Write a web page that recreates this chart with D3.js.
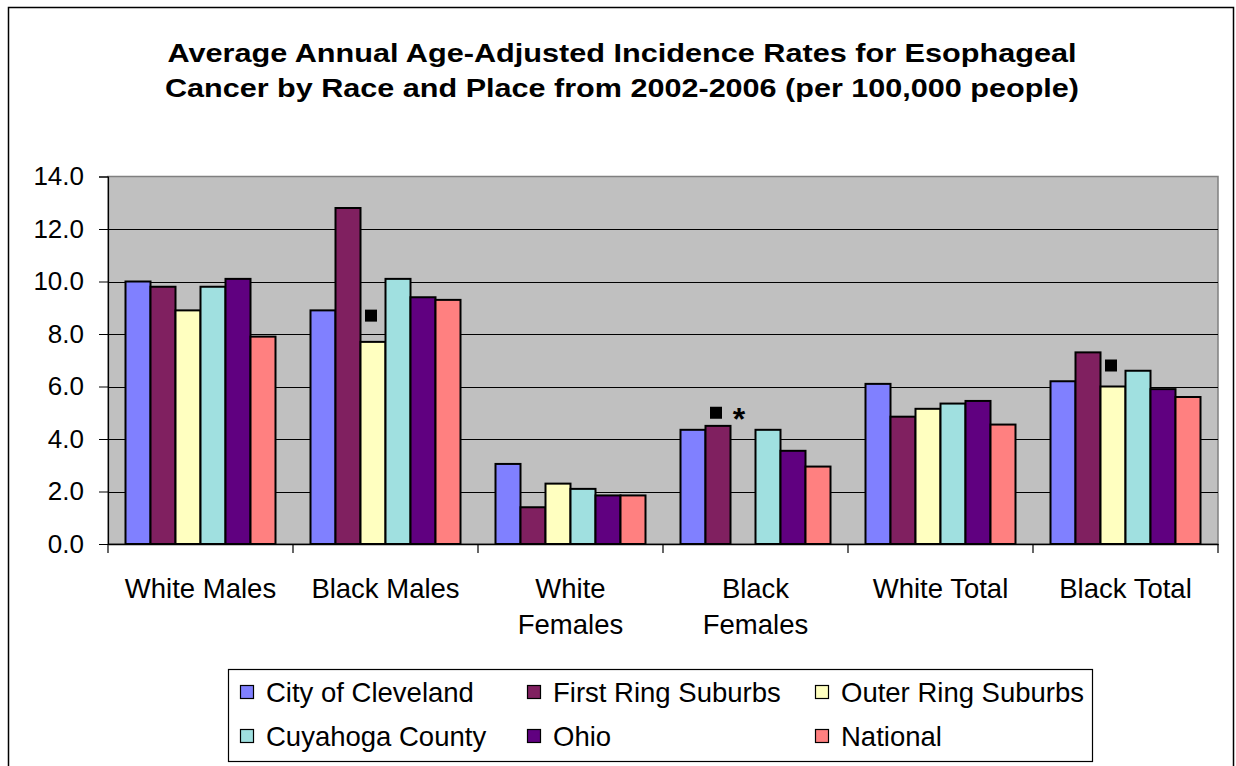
<!DOCTYPE html>
<html>
<head>
<meta charset="utf-8">
<script src="https://cdn.jsdelivr.net/npm/d3@7"></script>
<style>
  html, body { margin: 0; padding: 0; background: #fff; }
  svg { display: block; font-family: "Liberation Sans", Arial, sans-serif; }
</style>
</head>
<body>
<svg id="chart" width="1236" height="766"></svg>
<script>
// ---------- data ----------
const titleLines = [
  "Average Annual Age-Adjusted Incidence Rates for Esophageal",
  "Cancer by Race and Place from 2002-2006 (per 100,000 people)"
];
const categories = ["White Males", "Black Males", "White Females", "Black Females", "White Total", "Black Total"];
const series = ["City of Cleveland", "First Ring Suburbs", "Outer Ring Suburbs", "Cuyahoga County", "Ohio", "National"];
const cityOfCleveland  = [10.0, 8.9, 3.05, 4.35, 6.1, 6.2];
const firstRingSuburbs = [9.8, 12.8, 1.4, 4.5, 4.85, 7.3];
const outerRingSuburbs = [8.9, 7.7, 2.3, null, 5.15, 6.0];
const cuyahogaCounty   = [9.8, 10.1, 2.1, 4.35, 5.35, 6.6];
const ohio             = [10.1, 9.4, 1.85, 3.55, 5.45, 5.9];
const national         = [7.9, 9.3, 1.85, 2.95, 4.55, 5.6];
const seriesValues = [cityOfCleveland, firstRingSuburbs, outerRingSuburbs, cuyahogaCounty, ohio, national];
const yTicks = [0, 2, 4, 6, 8, 10, 12, 14];
// significance markers: category, series, symbol, height (data units)
const markerCategory = ["Black Males", "Black Females", "Black Females", "Black Total"];
const markerSeries   = ["Outer Ring Suburbs", "First Ring Suburbs", "Outer Ring Suburbs", "Outer Ring Suburbs"];
const markerSymbol   = ["square", "square", "asterisk", "square"];
const markerValue    = [8.7, 5.0, 4.9, 6.8];

// ---------- styles ----------
const colors = ["#8080FF", "#802060", "#FFFFC0", "#A0E0E0", "#600080", "#FF8080"];
const plot = { left: 108, right: 1218, top: 176.5, bottom: 544 };
const labelFont = 27.5;
const titleWidths = [909, 914];

const svg = d3.select("#chart");

// outer frame
svg.append("rect")
  .attr("x", 8.5).attr("y", 7.5).attr("width", 1225).attr("height", 820)
  .attr("fill", "#fff").attr("stroke", "#000").attr("stroke-width", 1.5);

// title
svg.append("g").selectAll("text").data(titleLines).join("text")
  .attr("x", 622).attr("y", (d, i) => 62 + i * 35)
  .attr("text-anchor", "middle")
  .attr("font-size", 26.5).attr("font-weight", "bold").attr("fill", "#000")
  .attr("textLength", (d, i) => titleWidths[i]).attr("lengthAdjust", "spacingAndGlyphs")
  .text(d => d);

// scales
const x0 = d3.scaleBand().domain(categories).range([plot.left, plot.right]).padding(0);
const x1 = d3.scaleBand().domain(series).range([17.5, x0.bandwidth() - 17.5]).padding(0);
const y = d3.scaleLinear().domain([0, 14]).range([plot.bottom, plot.top]);
const color = d3.scaleOrdinal().domain(series).range(colors);

// plot area
svg.append("rect")
  .attr("x", plot.left).attr("y", plot.top)
  .attr("width", plot.right - plot.left).attr("height", plot.bottom - plot.top)
  .attr("fill", "#C0C0C0").attr("stroke", "#808080").attr("stroke-width", 1.5);

// gridlines
svg.append("g").selectAll("line").data(yTicks.filter(t => t > 0 && t < 14)).join("line")
  .attr("x1", plot.left).attr("x2", plot.right)
  .attr("y1", d => Math.round(y(d)) + 0.5).attr("y2", d => Math.round(y(d)) + 0.5)
  .attr("stroke", "#000").attr("stroke-width", 1);

// y axis
const yAxis = svg.append("g").attr("transform", `translate(${plot.left},0)`)
  .call(d3.axisLeft(y).tickValues(yTicks).tickFormat(d3.format(".1f")).tickSize(9).tickPadding(15));
yAxis.select(".domain").attr("stroke", "#000").attr("stroke-width", 1.2);
yAxis.selectAll(".tick line").attr("stroke", "#000");
yAxis.selectAll(".tick text").attr("font-size", 26).attr("font-family", "Liberation Sans, Arial, sans-serif").attr("fill", "#000");

// bars
const flat = [];
categories.forEach((c, ci) => series.forEach((s, si) => {
  const v = seriesValues[si][ci];
  if (v != null) flat.push({ c, s, v });
}));
svg.append("g").selectAll("rect").data(flat).join("rect")
  .attr("x", d => x0(d.c) + x1(d.s))
  .attr("y", d => y(d.v))
  .attr("width", x1.bandwidth())
  .attr("height", d => y(0) - y(d.v))
  .attr("fill", d => color(d.s))
  .attr("stroke", "#000").attr("stroke-width", 2);

// x axis
const xAxis = svg.append("g").attr("transform", `translate(0,${plot.bottom})`)
  .call(d3.axisBottom(x0).tickSize(0).tickPadding(0));
xAxis.select(".domain").attr("stroke", "#000").attr("stroke-width", 1.5);
xAxis.selectAll(".tick text").remove();
xAxis.selectAll(".tick").each(function(d) {
  const lines = d.endsWith("Females") ? d.split(" ") : [d];
  const t = d3.select(this).append("text")
    .attr("text-anchor", "middle").attr("font-size", labelFont).attr("fill", "#000")
    .attr("font-family", "Liberation Sans, Arial, sans-serif");
  lines.forEach((l, i) => t.append("tspan").attr("x", 0).attr("y", 54 + i * 36).text(l));
});
// boundary ticks
const bounds = categories.map(c => x0(c)).concat([plot.right]);
svg.append("g").selectAll("line").data(bounds).join("line")
  .attr("x1", d => d).attr("x2", d => d)
  .attr("y1", plot.bottom).attr("y2", plot.bottom + 9)
  .attr("stroke", "#000").attr("stroke-width", 1.2);

// markers
const markers = markerCategory.map((c, i) => ({ c, s: markerSeries[i], sym: markerSymbol[i], v: markerValue[i] }));
const mg = svg.append("g");
markers.forEach(m => {
  const cx = x0(m.c) + x1(m.s) + x1.bandwidth() / 2;
  const cy = y(m.v);
  if (m.sym === "square") {
    mg.append("path").attr("d", d3.symbol(d3.symbolSquare, 144)())
      .attr("transform", `translate(${cx - 2},${cy})`).attr("fill", "#000");
  } else {
    mg.append("text").attr("x", cx - 4).attr("y", cy + 15)
      .attr("text-anchor", "middle").attr("font-size", 32).attr("font-weight", "bold")
      .attr("fill", "#000").text("*");
  }
});

// legend
const lg = svg.append("g");
lg.append("rect").attr("x", 228.5).attr("y", 669.5).attr("width", 864).attr("height", 92)
  .attr("fill", "#fff").attr("stroke", "#000").attr("stroke-width", 1.2);
const colX = [240, 527, 815];
const rowY = [692, 736];
const items = lg.selectAll("g.item").data(series).join("g").attr("class", "item")
  .attr("transform", (d, i) => `translate(${colX[i % 3]},${rowY[Math.floor(i / 3)]})`);
items.append("rect").attr("x", 0.5).attr("y", -6.5).attr("width", 13).attr("height", 13)
  .attr("fill", d => color(d)).attr("stroke", "#000").attr("stroke-width", 1.2);
items.append("text").attr("x", 26).attr("y", 10).attr("font-size", labelFont).attr("fill", "#000")
  .text(d => d);
</script>
</body>
</html>
